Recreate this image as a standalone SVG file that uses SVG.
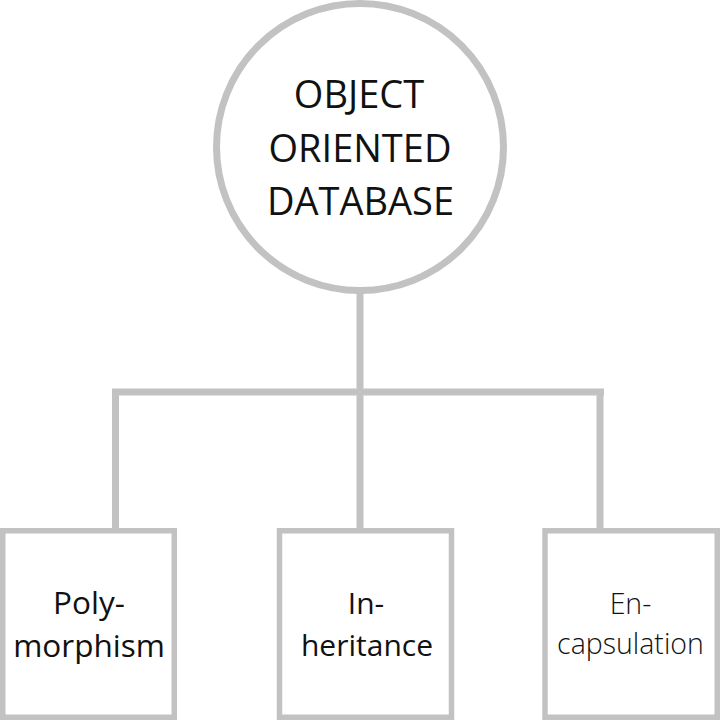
<svg xmlns="http://www.w3.org/2000/svg" width="720" height="720" viewBox="0 0 720 720">
<style>
.shape{fill:#ffffff;stroke:#c2c2c2}
.conn{fill:none;stroke:#c2c2c2;stroke-width:7;stroke-linecap:butt}
.t{font-family:"Open Sans","Liberation Sans",sans-serif;fill:#111111;text-anchor:middle}
.title{font-size:38px}
.lbl{font-size:30px}
.big{font-size:31.5px}
.light{font-weight:300;font-size:28.5px}
</style>
<rect width="720" height="720" fill="#ffffff"/>
<g id="connectors">
<path class="conn" d="M360 290 V528"/>
<path class="conn" d="M112 392 H604"/>
<path class="conn" d="M115.5 392 V528"/>
<path class="conn" d="M600 392 V528"/>
</g>
<g id="root">
<circle class="shape" cx="360" cy="147" r="143.5" stroke-width="7"/>
<text class="t title" x="359" y="108">OBJECT</text>
<text class="t title" x="360" y="162">ORIENTED</text>
<text class="t title" x="360.5" y="215">DATABASE</text>
</g>
<g id="polymorphism">
<rect class="shape" x="2.75" y="530.75" width="171.5" height="186.5" stroke-width="5.5"/>
<text class="t big" x="89" y="614">Poly-</text>
<text class="t big" x="89" y="657">morphism</text>
</g>
<g id="inheritance">
<rect class="shape" x="279.5" y="530.75" width="172" height="186.5" stroke-width="5.5"/>
<text class="t lbl" x="366" y="614">In-</text>
<text class="t lbl" x="367" y="656">heritance</text>
</g>
<g id="encapsulation">
<rect class="shape" x="545" y="530.75" width="172.25" height="186.5" stroke-width="5.5"/>
<text class="t light" x="630.5" y="614">En-</text>
<text class="t light" x="630.5" y="654">capsulation</text>
</g>
</svg>
